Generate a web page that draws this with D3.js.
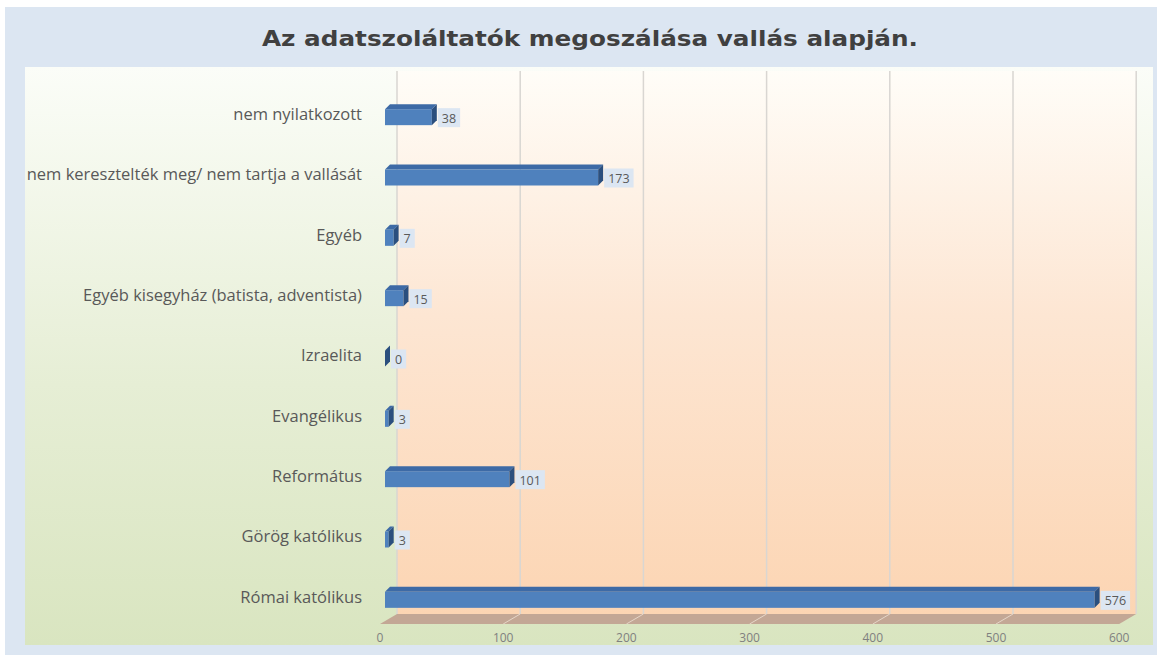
<!DOCTYPE html>
<html>
<head>
<meta charset="utf-8">
<script src="https://cdn.jsdelivr.net/npm/d3@7"></script>
<style>
  body { margin: 0; background: #fff; }
  svg { display: block; }
</style>
</head>
<body>
<div id="chart"></div>
<script>
// categories top to bottom
var categories = [
    "nem nyilatkozott",
    "nem keresztelték meg/ nem tartja a vallását",
    "Egyéb",
    "Egyéb kisegyház (batista, adventista)",
    "Izraelita",
    "Evangélikus",
    "Református",
    "Görög katólikus",
    "Római katólikus"
];
var values = [38, 173, 7, 15, 0, 3, 101, 3, 576];
var xTicks = [0, 100, 200, 300, 400, 500, 600];
var title = "Az adatszoláltatók megoszálása vallás alapján.";

var W = 1157, H = 655;
var data = categories.map(function(c, i) { return {cat: c, value: values[i]}; });

var frontX = 380,   // front edge of the floor (value 0)
    barX = 385,     // bar front face starts here
    wallX = 397,    // back wall (value 0)
    depthDy = 10,
    floorFrontY = 624,
    wallTop = 71;

var x = d3.scaleLinear().domain([0, 600]).range([0, 739.2]);
var y = d3.scaleBand().domain(categories).range([87, 630]).padding(0);

var svg = d3.select("#chart").append("svg")
    .attr("width", W).attr("height", H);

var defs = svg.append("defs");
var g1 = defs.append("linearGradient").attr("id", "plotBg")
    .attr("x1", 0).attr("y1", 0).attr("x2", 0).attr("y2", 1);
g1.append("stop").attr("offset", "0%").attr("stop-color", "#fbfdf8");
g1.append("stop").attr("offset", "55%").attr("stop-color", "#e6eed5");
g1.append("stop").attr("offset", "100%").attr("stop-color", "#d9e5c0");

var g2 = defs.append("linearGradient").attr("id", "wallBg")
    .attr("x1", 0).attr("y1", 0).attr("x2", 0).attr("y2", 1);
g2.append("stop").attr("offset", "0%").attr("stop-color", "#fffdf8");
g2.append("stop").attr("offset", "45%").attr("stop-color", "#fde6d3");
g2.append("stop").attr("offset", "100%").attr("stop-color", "#fcd5b3");

// outer background
svg.append("rect").attr("x", 5).attr("y", 7).attr("width", W - 5).attr("height", H - 7)
    .attr("fill", "#dce6f2");

// plot area
svg.append("rect").attr("x", 25).attr("y", 67).attr("width", 1128).attr("height", 578)
    .attr("fill", "url(#plotBg)");

// back wall
var wallRight = wallX + x(600);
var floorBackY = floorFrontY - depthDy;
svg.append("rect").attr("x", wallX).attr("y", wallTop)
    .attr("width", x(600)).attr("height", floorBackY - wallTop)
    .attr("fill", "url(#wallBg)");

// floor
svg.append("path")
    .attr("d", "M" + frontX + "," + floorFrontY +
        "L" + (frontX + x(600)) + "," + floorFrontY +
        "L" + wallRight + "," + floorBackY +
        "L" + wallX + "," + floorBackY + "Z")
    .attr("fill", "#c3a795");

// gridlines on wall and floor
svg.selectAll(".grid").data(xTicks).enter().append("line")
    .attr("x1", function(d) { return wallX + x(d); })
    .attr("x2", function(d) { return wallX + x(d); })
    .attr("y1", wallTop).attr("y2", floorBackY)
    .attr("stroke", "#d9d6d2").attr("stroke-width", 1.5);

svg.selectAll(".fgrid").data(xTicks.slice(1, 6)).enter().append("line")
    .attr("x1", function(d) { return frontX + x(d); })
    .attr("y1", floorFrontY)
    .attr("x2", function(d) { return wallX + x(d); })
    .attr("y2", floorBackY)
    .attr("stroke", "#e6d6c8").attr("stroke-width", 1);

// axis tick labels
svg.selectAll(".tick").data(xTicks).enter().append("text")
    .attr("x", function(d) { return frontX + x(d); })
    .attr("y", 642)
    .attr("text-anchor", "middle")
    .attr("font-family", "Open Sans, sans-serif")
    .attr("font-size", 12)
    .attr("fill", "#808080")
    .text(function(d) { return d; });

// category labels
svg.selectAll(".cat").data(data).enter().append("text")
    .attr("x", 362)
    .attr("y", function(d) { return y(d.cat) + y.bandwidth() / 2 - 3; })
    .attr("dy", "0.35em")
    .attr("text-anchor", "end")
    .attr("font-family", "Open Sans, sans-serif")
    .attr("font-size", 16.5)
    .attr("fill", "#595959")
    .text(function(d) { return d.cat; });

// 3d bars
var bd = 5, bh = 16;
var bars = svg.selectAll(".bar").data(data).enter().append("g");

bars.each(function(d) {
    var gb = d3.select(this);
    var cy = y(d.cat) + y.bandwidth() / 2;
    var x0 = barX, x1 = barX + x(d.value);
    var top = cy - bh / 2, bot = cy + bh / 2;
    // top face
    gb.append("path")
        .attr("d", "M" + x0 + "," + top + "L" + (x0 + bd) + "," + (top - bd) +
            "L" + (x1 + bd) + "," + (top - bd) + "L" + x1 + "," + top + "Z")
        .attr("fill", "#3d6aa6");
    // front face
    if (d.value > 0) {
        gb.append("rect").attr("x", x0).attr("y", top)
            .attr("width", x1 - x0).attr("height", bh)
            .attr("fill", "#4f81bd");
    }
    // side face
    gb.append("path")
        .attr("d", "M" + x1 + "," + top + "L" + (x1 + bd) + "," + (top - bd) +
            "L" + (x1 + bd) + "," + (bot - bd) + "L" + x1 + "," + bot + "Z")
        .attr("fill", "#2b4f7e");

    // value label with box
    var lbl = gb.append("g");
    var txt = lbl.append("text")
        .attr("x", x1 + bd + 5)
        .attr("y", cy + 1)
        .attr("dy", "0.35em")
        .attr("font-family", "Open Sans, sans-serif")
        .attr("font-size", 12.5)
        .attr("fill", "#595959")
        .text(d.value);
    var w = txt.node().getComputedTextLength();
    lbl.insert("rect", "text")
        .attr("x", x1 + bd + 1)
        .attr("y", cy - 9)
        .attr("width", w + 8)
        .attr("height", 19)
        .attr("fill", "#dce6f2");
});

// title
svg.append("text")
    .attr("x", 590)
    .attr("y", 46)
    .attr("text-anchor", "middle")
    .attr("font-family", "DejaVu Sans, sans-serif")
    .attr("font-weight", "bold")
    .attr("font-size", 21)
    .attr("fill", "#404040")
    .attr("textLength", 656)
    .attr("lengthAdjust", "spacingAndGlyphs")
    .text(title);
</script>
</body>
</html>
